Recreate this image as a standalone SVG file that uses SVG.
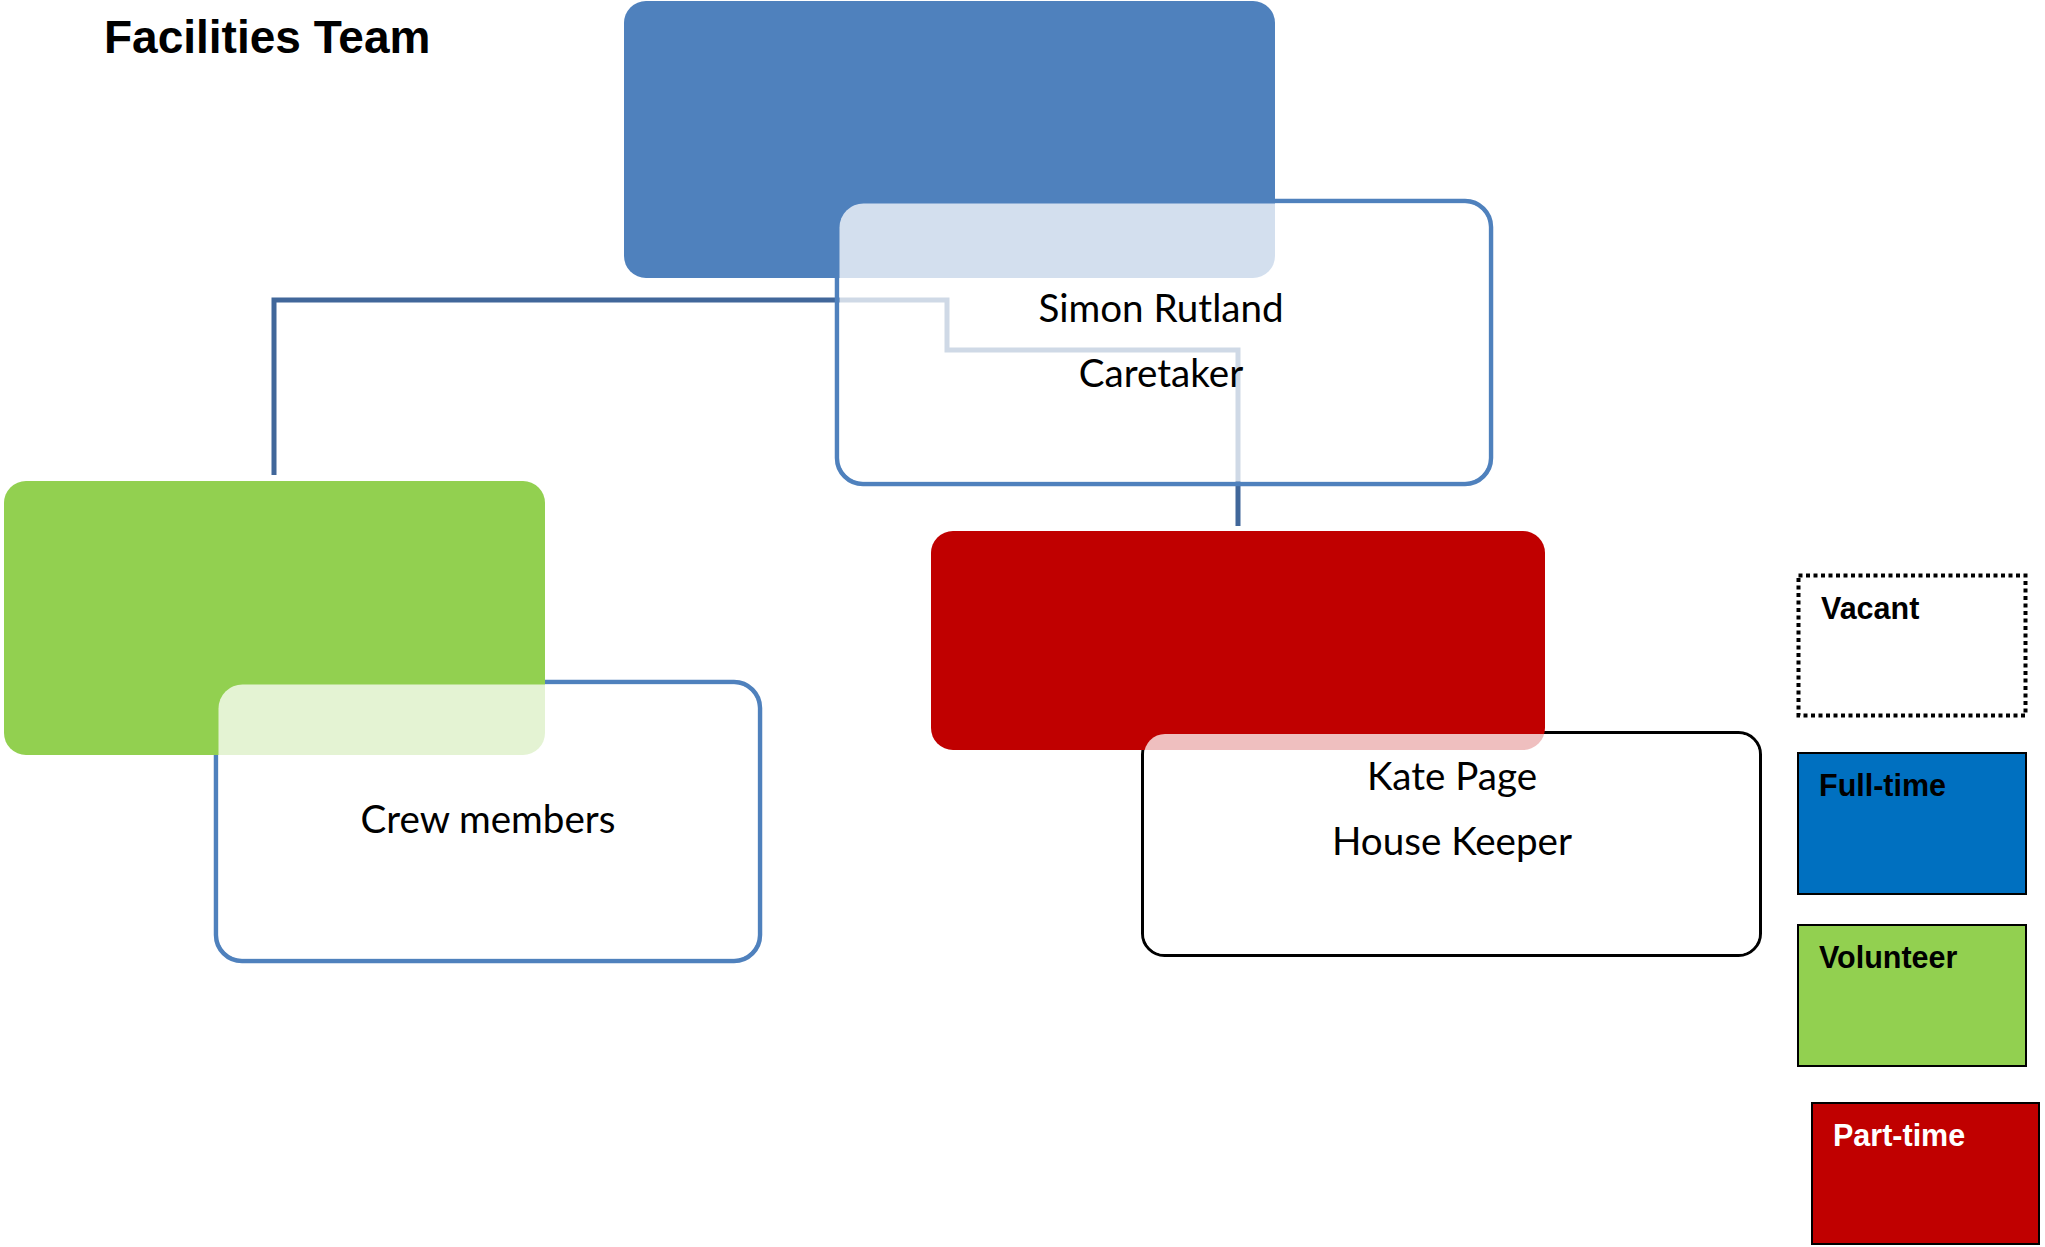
<svg xmlns="http://www.w3.org/2000/svg" width="2045" height="1247" viewBox="0 0 2045 1247">
<style>
.conn{fill:none;stroke:#41679A;stroke-width:5;stroke-linejoin:miter}
.boxb{fill:none;stroke:#4F81BD;stroke-width:4.5}
.boxk{fill:none;stroke:#000;stroke-width:3}
.veil{fill:#fff;fill-opacity:0.75}
.name{font-family:Lato,"Open Sans",sans-serif;font-size:38.6px;fill:#000;text-anchor:middle}
.leg{font-family:"Liberation Sans",Arial,sans-serif;font-weight:bold;font-size:30.5px;fill:#000}
.legbox{stroke:#000;stroke-width:2}
</style>
<rect width="2045" height="1247" fill="#fff"/>
<text x="104" y="53" font-family="Liberation Sans, Arial, sans-serif" font-weight="bold" font-size="46" fill="#000">Facilities Team</text>
<g id="connectors">
<path class="conn" d="M274,475 V300 H947 V350 H1238 V526"/>
</g>
<g id="node-simon">
<rect class="boxb" x="837" y="201" width="654" height="283" rx="26"/>
<rect x="624" y="1" width="651" height="277" rx="22" fill="#4F81BD"/>
<rect class="veil" x="839.5" y="203.5" width="649" height="278" rx="24"/>
<text class="name" x="1161" y="322">Simon Rutland</text>
<text class="name" x="1161" y="387">Caretaker</text>
</g>
<g id="node-crew">
<rect class="boxb" x="216" y="682" width="544" height="279" rx="26"/>
<rect x="4" y="481" width="541" height="274" rx="22" fill="#92D050"/>
<rect class="veil" x="218.5" y="684.5" width="539" height="274" rx="24"/>
<text class="name" x="488" y="833">Crew members</text>
</g>
<g id="node-kate">
<rect class="boxk" x="1142.5" y="732.5" width="618" height="223" rx="22"/>
<rect x="931" y="531" width="614" height="219" rx="22" fill="#C00000"/>
<rect class="veil" x="1144" y="734" width="615" height="220" rx="21"/>
<text class="name" x="1452" y="790">Kate Page</text>
<text class="name" x="1452" y="855">House Keeper</text>
</g>
<g id="legend-vacant">
<rect x="1798.5" y="575.5" width="227" height="140" fill="#fff" stroke="#000" stroke-width="4" stroke-dasharray="4 3.5"/>
<text class="leg" x="1821" y="619">Vacant</text>
</g>
<g id="legend-fulltime">
<rect class="legbox" x="1798" y="753" width="228" height="141" fill="#0070C0"/>
<text class="leg" x="1819" y="796">Full-time</text>
</g>
<g id="legend-volunteer">
<rect class="legbox" x="1798" y="925" width="228" height="141" fill="#92D050"/>
<text class="leg" x="1819" y="968">Volunteer</text>
</g>
<g id="legend-parttime">
<rect class="legbox" x="1812" y="1103" width="227" height="141" fill="#C00000"/>
<text class="leg" x="1833" y="1146" style="fill:#fff">Part-time</text>
</g>
</svg>
